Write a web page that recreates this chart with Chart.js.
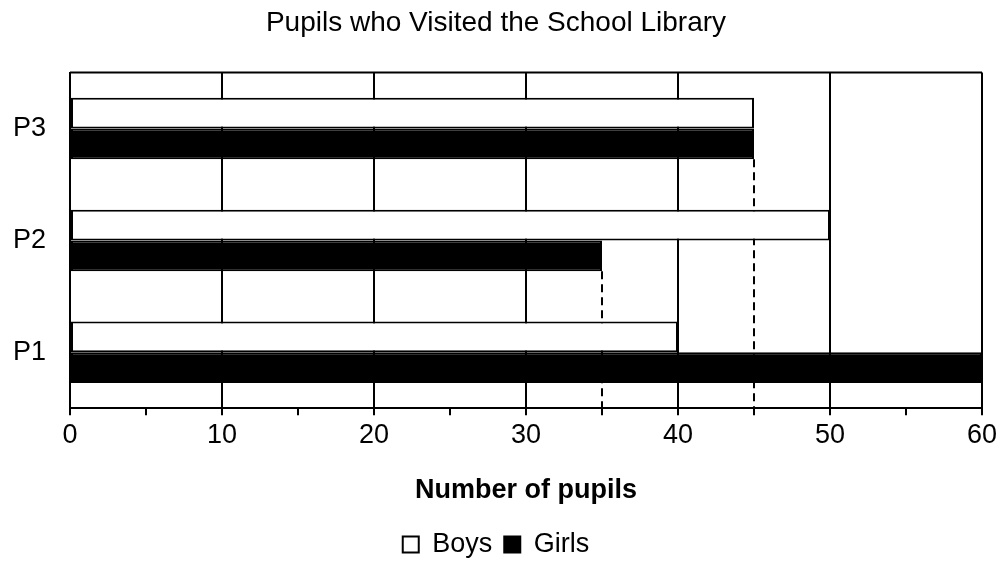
<!DOCTYPE html>
<html>
<head>
<meta charset="utf-8">
<script src="https://cdn.jsdelivr.net/npm/chart.js@4/dist/chart.umd.min.js"></script>
<style>
  html, body { margin: 0; padding: 0; background: #fff; }
  #wrap { width: 1004px; height: 562px; }
</style>
</head>
<body>
<div id="wrap"><canvas id="libraryChart" width="1004" height="562"></canvas></div>
<script>
const categories = ['P3', 'P2', 'P1'];
const boys = [45, 50, 40];
const girls = [45, 35, 60];
const xTicks = [0, 10, 20, 30, 40, 50, 60];

const FONT = '"Liberation Sans", Arial, sans-serif';

// hand-drawn dashed guides running down from the girls' bar ends
const guideLines = {
  id: 'guideLines',
  beforeDatasetsDraw(chart) {
    const meta = chart.getDatasetMeta(1);
    const area = chart.chartArea;
    const ctx = chart.ctx;
    ctx.save();
    ctx.strokeStyle = '#000';
    ctx.lineWidth = 2;
    ctx.setLineDash([8, 5]);
    meta.data.forEach((bar, i) => {
      if (i === meta.data.length - 1) return;
      ctx.beginPath();
      ctx.moveTo(bar.x, bar.y + bar.height / 2);
      ctx.lineTo(bar.x, area.bottom);
      ctx.stroke();
    });
    ctx.restore();
  }
};

const frameTop = {
  id: 'frameTop',
  afterDraw(chart) {
    const a = chart.chartArea;
    const ctx = chart.ctx;
    ctx.save();
    ctx.strokeStyle = '#000';
    ctx.lineWidth = 2;
    ctx.beginPath();
    ctx.moveTo(a.left, a.top);
    ctx.lineTo(a.right, a.top);
    ctx.stroke();
    ctx.restore();
  }
};

const ctx = document.getElementById('libraryChart').getContext('2d');
new Chart(ctx, {
  type: 'bar',
  data: {
    labels: categories,
    datasets: [
      {
        label: 'Boys',
        data: boys,
        backgroundColor: '#fff',
        borderColor: '#000',
        borderWidth: 2,
        borderSkipped: false
      },
      {
        label: 'Girls',
        data: girls,
        backgroundColor: '#000',
        borderColor: '#000',
        borderWidth: 2,
        borderSkipped: false
      }
    ]
  },
  options: {
    indexAxis: 'y',
    responsive: false,
    animation: false,
    categoryPercentage: 0.55,
    barPercentage: 1.0,
    layout: { padding: { left: 10, right: 22, top: 0, bottom: -6 } },
    plugins: {
      title: {
        display: true,
        text: 'Pupils who Visited the School Library',
        color: '#000',
        font: { family: FONT, size: 28, weight: 'normal' },
        padding: { top: 6, bottom: 33 }
      },
      legend: {
        position: 'bottom',
        labels: {
          color: '#000',
          font: { family: FONT, size: 27 },
          boxWidth: 16,
          boxHeight: 16,
          padding: 12
        }
      },
      tooltip: { enabled: false }
    },
    scales: {
      x: {
        min: 0,
        max: 60,
        ticks: {
          stepSize: 5,
          color: '#000',
          font: { family: FONT, size: 27 },
          padding: 4,
          maxRotation: 0,
          callback: v => xTicks.includes(v) ? v : ''
        },
        grid: {
          color: c => (c.tick && c.tick.value % 10 === 0) ? '#000' : 'rgba(0,0,0,0)',
          tickColor: '#000',
          lineWidth: 2,
          tickLength: 7
        },
        border: { color: '#000', width: 2 },
        title: {
          display: true,
          text: 'Number of pupils',
          color: '#000',
          font: { family: FONT, size: 27, weight: 'bold' },
          padding: { top: 19, bottom: 12 }
        }
      },
      y: {
        afterFit(scale) { scale.width = 60; },
        ticks: {
          color: '#000',
          font: { family: FONT, size: 27 },
          padding: 24
        },
        grid: { display: false, drawTicks: false },
        border: { color: '#000', width: 2 }
      }
    }
  },
  plugins: [guideLines, frameTop]
});
</script>
</body>
</html>
